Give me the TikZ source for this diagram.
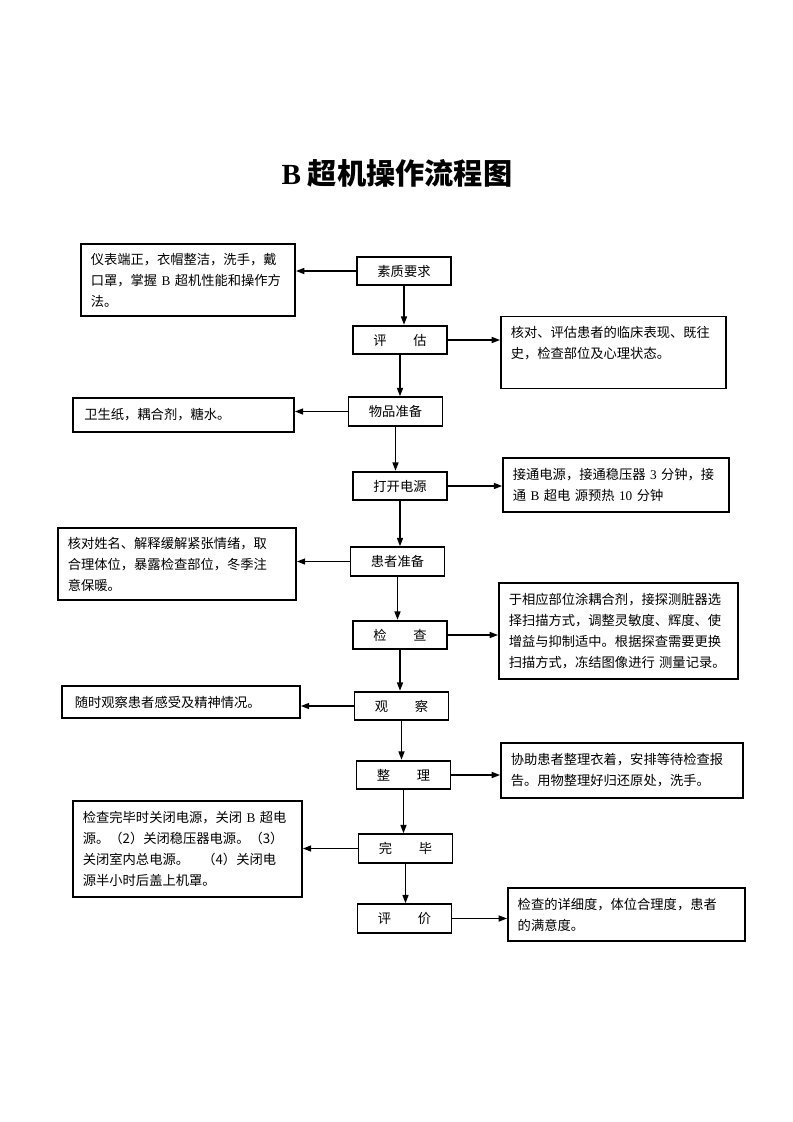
\documentclass[tikz,border=0pt]{standalone}
\usepackage{fontspec}
\setmainfont{Noto Sans CJK SC}
\newfontfamily\latin{Liberation Serif}
\usetikzlibrary{arrows.meta}
\begin{document}
\begin{tikzpicture}[x=0.26482mm, y=-0.26482mm,
    font=\fontsize{10}{15.8}\selectfont,
    stage/.style={draw, line width=1.4pt, minimum width=24.9mm, minimum height=7.6mm, inner sep=0pt},
    note/.style={draw, line width=1.4pt, align=left, inner xsep=2.6mm, inner ysep=1mm},
    arr/.style={-{Triangle[length=2.2mm, width=1.6mm]}, line width=1pt}]
    \useasboundingbox (0, 0) rectangle (793, 1122);
    \node (title) at (397, 173) {\fontsize{22}{26}\selectfont\bfseries {\latin B} 超机操作流程图};

    \node[stage] (c1) at (404, 271) {素质要求};
    \node[stage] (c2) at (400, 340) {评\hspace{2em}估};
    \node[stage] (c3) at (395.5, 411.5) {物品准备};
    \node[stage] (c4) at (400, 486) {打开电源};
    \node[stage] (c5) at (397.5, 561.5) {患者准备};
    \node[stage] (c6) at (400, 635) {检\hspace{2em}查};
    \node[stage] (c7) at (401.5, 706) {观\hspace{2em}察};
    \node[stage] (c8) at (403.5, 775) {整\hspace{2em}理};
    \node[stage] (c9) at (405.5, 848.5) {完\hspace{2em}毕};
    \node[stage] (c10) at (404.5, 918.5) {评\hspace{2em}价};

    \node[note, text width=51.5mm, minimum height=19.1mm] (l1) at (188, 280)
        {仪表端正，衣帽整洁，洗手，戴\\口罩，掌握~{\latin B}~超机性能和操作方\\法。};
    \node[note, text width=58.5mm, minimum height=9mm, inner xsep=0pt] (l3) at (183.5, 415)
        {\hspace{3mm}卫生纸，耦合剂，糖水。};
    \node[note, text width=57.8mm, minimum height=19.1mm] (l5) at (177, 564)
        {核对姓名、解释缓解紧张情绪，取\\合理体位，暴露检查部位，冬季注\\意保暖。};
    \node[note, text width=63mm, minimum height=8.5mm, inner xsep=0pt] (l7) at (181, 702)
        {\hspace{3.4mm}随时观察患者感受及精神情况。};
    \node[note, text width=55.4mm, minimum height=25.4mm] (l9) at (187.5, 849)
        {检查完毕时关闭电源，关闭~{\latin B}~超电\\源。（2）关闭稳压器电源。（3）\\关闭室内总电源。\hspace{1em}（4）关闭电\\源半小时后盖上机罩。};

    \node[note, text width=54.4mm, minimum height=19.1mm] (r2) at (613.5, 352.5)
        {核对、评估患者的临床表现、既往\\史，检查部位及心理状态。\\\mbox{}};
    \node[note, text width=54.6mm, minimum height=14.3mm] (r4) at (616, 485)
        {接通电源，接通稳压器~{\latin 3}~分钟，接\\通~{\latin B}~超电~源预热~{\latin 10}~分钟};
    \node[note, text width=58.1mm, minimum height=25.4mm] (r6) at (618.5, 631)
        {于相应部位涂耦合剂，接探测脏器选\\择扫描方式，调整灵敏度、辉度、使\\增益与抑制适中。根据探查需要更换\\扫描方式，冻结图像进行~测量记录。};
    \node[note, text width=58.9mm, minimum height=14.6mm] (r8) at (622, 770.5)
        {协助患者整理衣着，安排等待检查报\\告。用物整理好归还原处，洗手。};
    \node[note, text width=57.6mm, minimum height=14mm] (r10) at (626.5, 914.5)
        {检查的详细度，体位合理度，患者\\的满意度。};

    \draw[arr] (c1.south) -- (c1.south |- c2.north);
    \draw[arr] (c2.south) -- (c2.south |- c3.north);
    \draw[arr] (c3.south) -- (c3.south |- c4.north);
    \draw[arr] (c4.south) -- (c4.south |- c5.north);
    \draw[arr] (c5.south) -- (c5.south |- c6.north);
    \draw[arr] (c6.south) -- (c6.south |- c7.north);
    \draw[arr] (c7.south) -- (c7.south |- c8.north);
    \draw[arr] (c8.south) -- (c8.south |- c9.north);
    \draw[arr] (c9.south) -- (c9.south |- c10.north);

    \draw[arr] (c1.west) -- (c1.west -| l1.east);
    \draw[arr] (c3.west) -- (c3.west -| l3.east);
    \draw[arr] (c5.west) -- (c5.west -| l5.east);
    \draw[arr] (c7.west) -- (c7.west -| l7.east);
    \draw[arr] (c9.west) -- (c9.west -| l9.east);

    \draw[arr] (c2.east) -- (c2.east -| r2.west);
    \draw[arr] (c4.east) -- (c4.east -| r4.west);
    \draw[arr] (c6.east) -- (c6.east -| r6.west);
    \draw[arr] (c8.east) -- (c8.east -| r8.west);
    \draw[arr] (c10.east) -- (c10.east -| r10.west);
\end{tikzpicture}
\end{document}
